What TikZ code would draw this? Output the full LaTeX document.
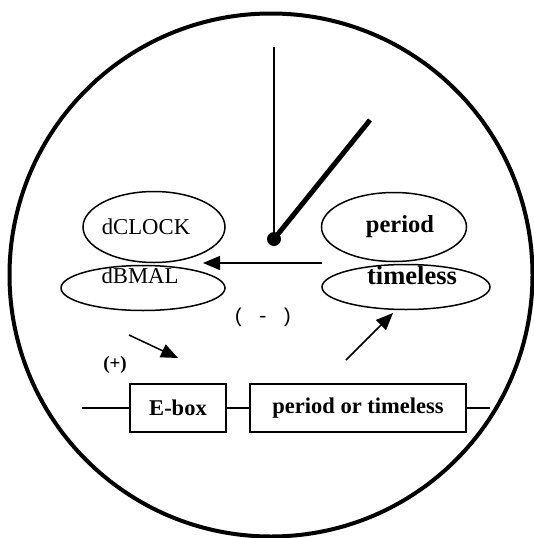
\documentclass[tikz,border=0pt]{standalone}
\usepackage{fontspec}
\setmainfont{Liberation Serif}
\setmonofont{Liberation Mono}
\usetikzlibrary{positioning}
\usetikzlibrary{shapes.geometric}
\usetikzlibrary{arrows.meta}

\begin{document}
\begin{tikzpicture}[x=1pt, y=-1pt,
		e/.style = {ellipse, draw, line width=1.5pt, inner sep=0},
		b/.style = {rectangle, draw, line width=1.5pt, minimum height=48pt, inner sep=0, font=\fontsize{22.5}{26}\selectfont\bfseries},
		t/.style = {font=\fontsize{22.7}{26}\selectfont},
		tb/.style = {font=\fontsize{24.5}{28}\selectfont\bfseries},
		r/.style = {-{Triangle[length=17pt,width=14pt]}, line width=1.5pt}
		]
		\useasboundingbox (0,0) rectangle (534,538);
		
		%Face and hands
		\draw[line width=4pt]	(271,275) circle [radius=261.5];
		\coordinate	(hub)	at	(274,239);
		\coordinate	(mtip)	at	(274,47);
		\coordinate	(htip)	at	(370,120);
		\draw[line width=2pt]	(hub) -- (mtip);
		\draw[line width=5pt]	(hub) -- (htip);
		\fill	(hub) circle [radius=7];
		
		%Nodes
		\node[e, minimum width=142pt, minimum height=71pt, label={[t, xshift=-8pt]center:dCLOCK}]	(clk)	at	(154,227)	{};
		\node[e, minimum width=164pt, minimum height=45pt, label={[t, xshift=-3pt, yshift=12pt]center:dBMAL}]	(bmal)	at	(143,288)	{};
		\node[e, minimum width=145pt, minimum height=69pt, label={[tb, xshift=6pt]center:period}]	(per)	at	(394,227)	{};
		\node[e, minimum width=168pt, minimum height=45pt, label={[tb, font=\fontsize{26.5}{30}\selectfont\bfseries, xshift=6pt, yshift=12pt]center:timeless}]	(tml)	at	(406,287)	{};
		\node[font=\fontsize{20}{24}\ttfamily]	(neg)	at	(263,317)	{( - )};
		\node[font=\fontsize{19}{22}\selectfont\bfseries]	(pos)	at	(115,365)	{(+)};
		\node[b, minimum width=96pt]	(ebox)	at	(178,408)	{E-box};
		\node[b, minimum width=216pt]	(pbox)	at	(358,408)	{period or timeless};
		
		%Lines
		\coordinate	(in)	at	(82,408);
		\coordinate	(out)	at	(490,408);
		\draw[line width=1.5pt]	(in) -- (ebox.west);
		\draw[line width=1.5pt]	(ebox.east) -- (pbox.west);
		\draw[line width=1.5pt]	(pbox.east) -- (out);
		\coordinate	(a1)	at	(322,263);
		\coordinate	(a2)	at	(203,263);
		\coordinate	(b1)	at	(129,335);
		\coordinate	(b2)	at	(178,358);
		\coordinate	(c1)	at	(346,360);
		\coordinate	(c2)	at	(393,313);
		\draw[r]	(a1) -- (a2);
		\draw[r]	(b1) -- (b2);
		\draw[r]	(c1) -- (c2);
	\end{tikzpicture}
\end{document}
